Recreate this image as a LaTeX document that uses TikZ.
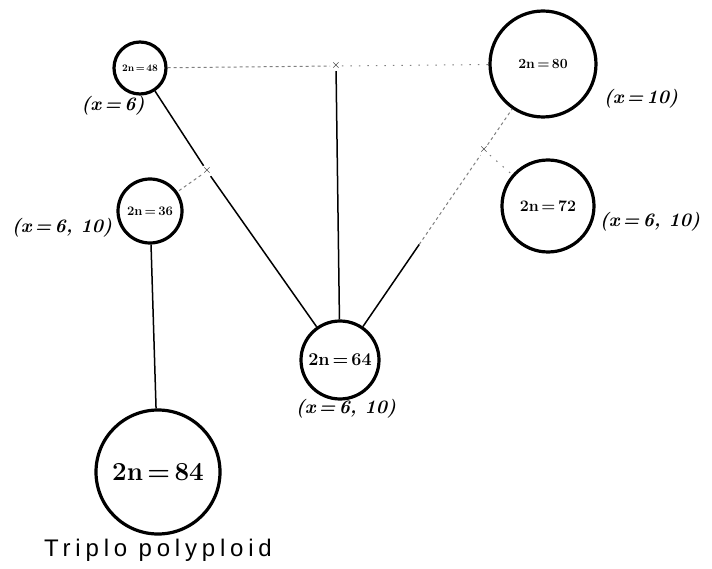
\documentclass[tikz,border=0pt]{standalone}
\usepackage{fontspec}
\usetikzlibrary{calc}
\newfontfamily\captionfont[LetterSpace=20]{Liberation Sans}
\newcommand{\chromo}[2]{{\fontsize{#1}{#1}\selectfont\bfseries 2n\,=\,#2}}
\newcommand{\basenum}[1]{{\fontsize{19}{19}\selectfont\bfseries\itshape (x\,=\,#1)}}
\begin{document}
\begin{tikzpicture}[x=1pt,y=-1pt,
  cell/.style={draw,circle,line width=3.2pt,inner sep=0pt},
  link/.style={line width=1.5pt},
  faint/.style={gray,line width=1pt,dash pattern=on 3pt off 3pt},
  sparse/.style={gray,line width=1pt,dash pattern=on 1.5pt off 7pt},
  junction/.style={inner sep=1pt,font=\large\bfseries}]
  \useasboundingbox (0,0) rectangle (712,569);
  % chromosome numbers
  \node[cell,minimum size=52pt] (n48) at (140,68) {\chromo{10}{48}};
  \node[cell,minimum size=106pt] (n80) at (543,64) {\chromo{14}{80}};
  \node[cell,minimum size=64pt] (n36) at (150,211) {\chromo{13}{36}};
  \node[cell,minimum size=92pt] (n72) at (548,206) {\chromo{16}{72}};
  \node[cell,minimum size=78pt] (n64) at (340,360) {\chromo{18}{64}};
  \node[cell,minimum size=124pt] (n84) at (158,472) {\chromo{26}{84}};
  % junctions
  \node[junction] (jtop) at (336,66) {$\times$};
  \node[junction] (jleft) at (207,171) {$\times$};
  \node[junction] (jright) at (484,150) {$\times$};
  \coordinate (bend) at ($(n64)!0.55!(jright)$);
  % connectors
  \draw[faint] (n48) -- (jtop);
  \draw[sparse] (jtop) -- (n80);
  \draw[link] (jtop) -- (n64);
  \draw[link] (n48) -- (jleft);
  \draw[link] (jleft) -- (n64);
  \draw[faint] (jleft) -- (n36);
  \draw[link] (n36) -- (n84);
  \draw[link] (n64) -- (bend);
  \draw[faint] (bend) -- (jright);
  \draw[faint] (jright) -- (n80);
  \draw[sparse] (jright) -- (n72);
  % basic numbers
  \node (b48) at (113,106) {\basenum{6}};
  \node (b36) at (62,228) {\basenum{6, 10}};
  \node (b64) at (346,409) {\basenum{6, 10}};
  \node (b80) at (641,99) {\basenum{10}};
  \node (b72) at (650,222) {\basenum{6, 10}};
  \node (triplo) at (158,550) {\captionfont\fontsize{24}{24}\selectfont Triplo polyploid};
\end{tikzpicture}
\end{document}
